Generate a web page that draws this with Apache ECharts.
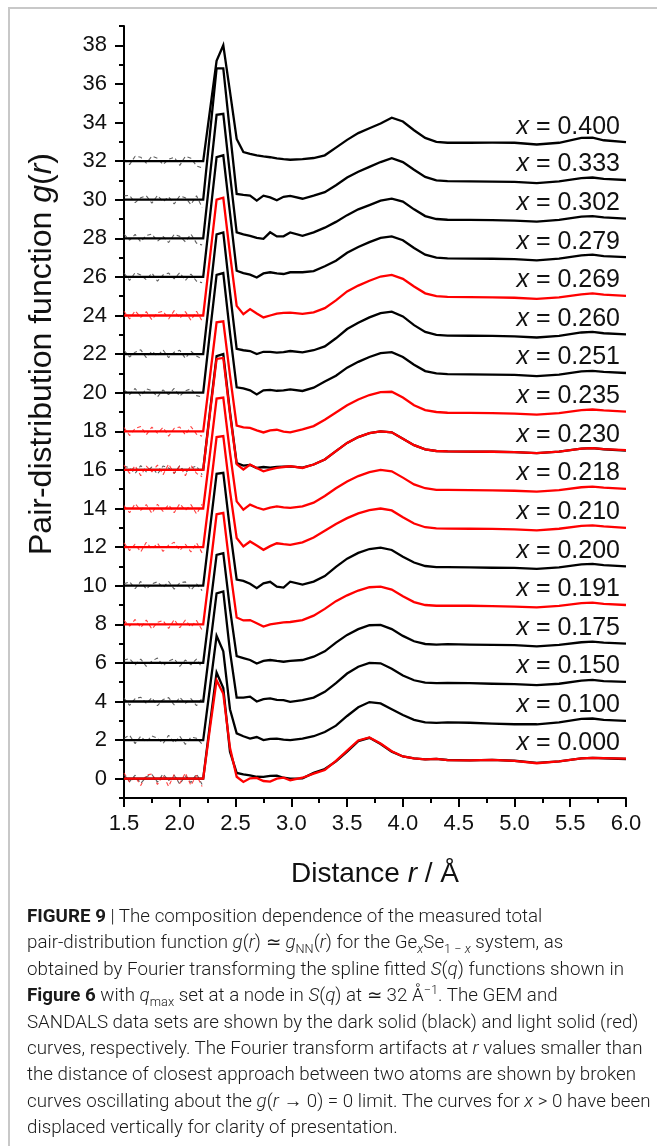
<!DOCTYPE html>
<html><head><meta charset="utf-8">
<script src="https://cdn.jsdelivr.net/npm/echarts@6/dist/echarts.min.js"></script>
<style>
html,body{margin:0;padding:0;background:#fff;}
#wrap{position:relative;width:657px;height:1146px;overflow:hidden;background:#fff;}
#chart{position:absolute;left:0;top:0;width:657px;height:1146px;}
#frameL{position:absolute;left:8px;top:7px;width:2px;height:1139px;background:#c8c8c8;}
#frameT{position:absolute;left:8px;top:7px;width:649px;height:2px;background:#c8c8c8;}
#cap{position:absolute;left:27px;top:903px;font-family:Roboto,'Liberation Sans',sans-serif;font-weight:300;font-size:18.4px;line-height:26.4px;color:#1a1a1a;white-space:nowrap;transform-origin:0 0;transform:scaleX(1.02);}
#cap b{font-weight:700;}
#cap sub,#cap sup{font-size:68%;line-height:0;}
</style></head>
<body>
<div id="wrap">
<div id="chart"></div>
<div id="frameL"></div><div id="frameT"></div>
<div id="cap"><b>FIGURE 9</b> | The composition dependence of the measured total<br>pair-distribution function <i>g</i>(<i>r</i>) ≃ <i>g</i><sub>NN</sub>(<i>r</i>) for the Ge<sub><i>x</i></sub>Se<sub>1 − <i>x</i></sub> system, as<br>obtained by Fourier transforming the spline fitted <i>S</i>(<i>q</i>) functions shown in<br><b>Figure 6</b> with <i>q</i><sub>max</sub> set at a node in <i>S</i>(<i>q</i>) at ≃ 32 Å<sup>−1</sup>. The GEM and<br>SANDALS data sets are shown by the dark solid (black) and light solid (red)<br>curves, respectively. The Fourier transform artifacts at <i>r</i> values smaller than<br>the distance of closest approach between two atoms are shown by broken<br>curves oscillating about the <i>g</i>(<i>r</i> → 0) = 0 limit. The curves for <i>x</i> &gt; 0 have been<br>displaced vertically for clarity of presentation.</div>
</div>
<script>
// ---------------- data ----------------
const R = [1.5, 2.21, 2.27, 2.33, 2.39, 2.45, 2.51, 2.57, 2.63, 2.69, 2.75, 2.81, 2.87, 2.93, 2.99, 3.1, 3.2, 3.3, 3.4, 3.5, 3.6, 3.7, 3.8, 3.9, 4.0, 4.1, 4.2, 4.3, 4.4, 4.6, 4.8, 5.0, 5.2, 5.4, 5.6, 5.7, 5.8, 6.0];
const RA = [1.5, 1.55, 1.6, 1.65, 1.7, 1.75, 1.8, 1.85, 1.9, 1.95, 2.0, 2.05, 2.1, 2.15, 2.2];
const xTicks = [1.5, 2.0, 2.5, 3.0, 3.5, 4.0, 4.5, 5.0, 5.5, 6.0];
const xMinor = [1.75, 2.25, 2.75, 3.25, 3.75, 4.25, 4.75, 5.25, 5.75];
const yTicks = [0, 2, 4, 6, 8, 10, 12, 14, 16, 18, 20, 22, 24, 26, 28, 30, 32, 34, 36, 38];
const yMinor = [-1, 1, 3, 5, 7, 9, 11, 13, 15, 17, 19, 21, 23, 25, 27, 29, 31, 33, 35, 37, 39];

// composition labels and vertical displacements
const compLabels = ['0.000','0.100','0.150','0.175','0.191','0.200','0.210','0.218','0.230','0.235','0.251','0.260','0.269','0.279','0.302','0.333','0.400'];
const offsets = [0, 2, 4, 6, 8, 10, 12, 14, 16, 18, 20, 22, 24, 26, 28, 30, 32];

// GEM (black) g(r), undisplaced
const gem000 = [0, 0, 2.8, 5.5, 4.7, 1.4, 0.3, 0.22, 0.17, 0.1, 0.09, 0.15, 0.16, 0.05, 0.0, 0.02, 0.3, 0.5, 0.9, 1.4, 1.95, 2.12, 1.8, 1.4, 1.15, 1.05, 1.0, 1.03, 0.97, 0.95, 0.98, 0.93, 0.82, 0.9, 1.05, 1.08, 1.06, 1.02];
const gem100 = [0, 0, 2.7, 5.4, 4.6, 1.6, 0.35, 0.2, 0.08, 0.16, 0.0, 0.06, 0.08, 0.03, 0.0, 0.08, 0.2, 0.42, 0.75, 1.25, 1.7, 1.97, 1.9, 1.6, 1.3, 1.05, 0.92, 0.89, 0.92, 0.9, 0.85, 0.82, 0.82, 0.92, 1.1, 1.12, 1.05, 1.0];
const gem150 = [0, 0, 2.8, 5.6, 5.7, 2.6, 0.2, 0.2, 0.25, 0.0, 0.12, 0.16, 0.08, 0.07, -0.02, 0.07, 0.2, 0.5, 0.95, 1.45, 1.8, 2.0, 1.98, 1.7, 1.35, 1.1, 0.98, 0.95, 0.97, 0.95, 0.92, 0.9, 0.85, 0.92, 1.08, 1.12, 1.06, 1.02];
const gem175 = [0, 0, 2.8, 5.6, 5.69, 2.8, 0.35, 0.25, 0.15, -0.03, 0.1, 0.15, 0.1, 0.06, 0.1, 0.15, 0.32, 0.6, 1.05, 1.45, 1.75, 1.95, 1.97, 1.75, 1.4, 1.12, 0.98, 0.95, 0.97, 0.95, 0.93, 0.92, 0.86, 0.93, 1.07, 1.1, 1.05, 1.0];
const gem200 = [0, 0, 2.9, 5.8, 5.85, 2.9, 0.32, 0.25, 0.1, -0.13, 0.12, 0.2, -0.05, -0.1, 0.21, 0.06, 0.21, 0.5, 0.98, 1.4, 1.7, 1.9, 1.97, 1.85, 1.5, 1.2, 1.02, 0.96, 0.96, 0.95, 0.93, 0.92, 0.87, 0.95, 1.1, 1.13, 1.07, 1.0];
const gem230 = [0, 0, 3.0, 5.9, 6.0, 3.0, 0.35, 0.22, 0.26, 0.1, 0.15, 0.12, 0.15, 0.17, 0.18, 0.12, 0.28, 0.54, 0.97, 1.4, 1.7, 1.9, 2.0, 1.95, 1.62, 1.28, 1.06, 0.98, 0.96, 0.95, 0.94, 0.92, 0.87, 0.95, 1.1, 1.13, 1.07, 1.0];
const gem251 = [0, 0, 3.1, 6.1, 6.2, 3.1, 0.28, 0.22, 0.12, -0.09, 0.12, 0.15, 0.1, 0.12, 0.17, 0.09, 0.26, 0.58, 0.88, 1.3, 1.6, 1.85, 2.05, 2.1, 1.85, 1.45, 1.12, 1.0, 0.96, 0.95, 0.94, 0.92, 0.86, 0.94, 1.1, 1.13, 1.08, 1.02];
const gem260 = [0, 0, 3.1, 6.2, 6.3, 3.2, 0.27, 0.2, 0.16, 0.0, 0.12, 0.12, 0.08, 0.1, 0.16, 0.09, 0.2, 0.4, 0.82, 1.3, 1.62, 1.9, 2.12, 2.2, 1.95, 1.5, 1.15, 1.0, 0.96, 0.95, 0.94, 0.92, 0.86, 0.94, 1.12, 1.15, 1.08, 1.02];
const gem279 = [0, 0, 3.1, 6.2, 6.3, 3.3, 0.32, 0.2, 0.12, -0.03, 0.18, 0.24, 0.18, 0.15, 0.24, 0.24, 0.3, 0.55, 0.84, 1.25, 1.55, 1.8, 2.02, 2.1, 1.9, 1.5, 1.15, 1.0, 0.96, 0.95, 0.94, 0.92, 0.86, 0.95, 1.12, 1.15, 1.08, 1.02];
const gem302 = [0, 0, 3.2, 6.4, 6.45, 3.3, 0.31, 0.2, 0.13, 0.02, -0.03, 0.31, 0.1, 0.1, 0.3, 0.13, 0.31, 0.55, 0.85, 1.2, 1.5, 1.72, 1.95, 2.05, 1.9, 1.5, 1.15, 1.0, 0.96, 0.95, 0.94, 0.92, 0.86, 0.95, 1.12, 1.15, 1.08, 1.02];
const gem333 = [0, 0, 3.4, 6.8, 6.8, 3.5, 0.3, 0.25, 0.21, -0.05, 0.21, 0.12, -0.03, 0.15, 0.2, 0.05, 0.21, 0.39, 0.75, 1.15, 1.45, 1.7, 1.95, 2.15, 1.95, 1.55, 1.18, 1.0, 0.96, 0.95, 0.94, 0.92, 0.86, 0.95, 1.12, 1.15, 1.08, 1.02];
const gem400 = [0, 0, 2.6, 5.2, 6.0, 3.6, 1.15, 0.47, 0.38, 0.3, 0.24, 0.2, 0.14, 0.1, 0.07, 0.1, 0.16, 0.3, 0.7, 1.1, 1.45, 1.7, 1.95, 2.25, 2.05, 1.6, 1.2, 1.0, 0.95, 0.95, 0.96, 0.95, 0.86, 0.95, 1.2, 1.22, 1.08, 0.98];

// SANDALS (red) g(r), undisplaced
const snd000 = [0, 0, 2.6, 5.1, 4.4, 1.6, 0.1, -0.17, 0.02, 0.04, -0.12, -0.15, 0.0, 0.05, -0.08, 0.05, 0.26, 0.45, 0.92, 1.45, 1.98, 2.14, 1.82, 1.42, 1.15, 1.05, 1.0, 1.03, 0.96, 0.95, 0.98, 0.92, 0.8, 0.9, 1.05, 1.08, 1.07, 1.04];
const snd191 = [0, 0, 2.8, 5.7, 5.77, 2.9, 0.35, 0.2, 0.22, 0.05, -0.12, 0.0, 0.05, 0.1, 0.12, 0.22, 0.45, 0.8, 1.2, 1.5, 1.75, 1.92, 1.95, 1.8, 1.45, 1.15, 1.0, 0.96, 0.97, 0.96, 0.94, 0.92, 0.88, 0.95, 1.1, 1.12, 1.06, 1.0];
const snd210 = [0, 0, 2.8, 5.7, 5.75, 2.9, 0.47, 0.03, 0.29, 0.08, -0.14, 0.05, 0.2, 0.15, 0.12, 0.25, 0.5, 0.85, 1.2, 1.5, 1.75, 1.92, 2.0, 1.9, 1.55, 1.22, 1.03, 0.97, 0.96, 0.95, 0.94, 0.92, 0.87, 0.95, 1.1, 1.13, 1.07, 1.0];
const snd218 = [0, 0, 2.8, 5.7, 5.75, 2.9, 0.37, -0.06, 0.2, 0.05, -0.06, 0.05, 0.11, 0.06, 0.03, 0.11, 0.3, 0.65, 1.05, 1.4, 1.68, 1.88, 2.0, 1.93, 1.6, 1.25, 1.05, 0.97, 0.96, 0.95, 0.94, 0.92, 0.87, 0.95, 1.1, 1.13, 1.08, 1.02];
const snd230 = [0, 0, 2.9, 5.75, 5.8, 2.9, 0.3, 0.02, 0.28, 0.1, -0.07, 0.03, 0.1, 0.15, 0.19, 0.1, 0.28, 0.54, 0.97, 1.4, 1.7, 1.9, 2.0, 1.95, 1.62, 1.28, 1.06, 0.98, 0.96, 0.95, 0.94, 0.92, 0.87, 0.95, 1.1, 1.13, 1.08, 1.02];
const snd235 = [0, 0, 2.8, 5.65, 5.7, 2.9, 0.3, 0.2, 0.18, 0.05, -0.06, 0.05, 0.08, -0.02, -0.06, 0.1, 0.27, 0.6, 0.97, 1.35, 1.65, 1.88, 2.03, 2.05, 1.75, 1.35, 1.1, 1.0, 0.96, 0.95, 0.94, 0.92, 0.86, 0.94, 1.1, 1.13, 1.08, 1.02];
const snd269 = [0, 0, 3.0, 6.0, 6.1, 3.2, 0.5, 0.07, 0.33, 0.1, -0.1, 0.0, 0.1, 0.14, 0.15, 0.08, 0.16, 0.38, 0.78, 1.25, 1.55, 1.8, 2.02, 2.1, 1.9, 1.5, 1.15, 1.0, 0.96, 0.95, 0.94, 0.92, 0.86, 0.94, 1.1, 1.15, 1.08, 1.02];

// Fourier-transform artifacts below r = 2.2 (broken curves)
const artG000 = [0.2,-0.15,0.18,-0.25,0.1,0.22,-0.18,0.25,-0.1,0.18,-0.28,0.15,-0.2,0.25,-0.3];
const artG100 = [0.1,0.25,-0.18,0.2,-0.1,0.22,0.1,-0.18,0.25,-0.15,0.2,-0.22,0.15,0.1,-0.2];
const artG150 = [0.18,-0.2,0.15,0.22,-0.1,0.2,-0.22,0.1,0.2,-0.18,0.22,-0.1,0.15,-0.22,0.18];
const artG175 = [0.15,0.22,-0.1,0.2,-0.18,0.1,0.25,-0.15,0.1,0.22,-0.18,0.15,-0.1,0.2,-0.25];
const artG200 = [0.1,0.2,-0.15,0.22,-0.18,0.1,0.2,-0.1,0.22,-0.18,0.15,0.2,-0.22,0.1,-0.25];
const artG230 = [0.2,0.1,-0.18,0.22,-0.1,0.15,-0.22,0.2,0.1,-0.18,0.22,-0.15,0.1,0.2,-0.25];
const artG251 = [0.15,-0.1,0.22,-0.18,0.2,0.1,-0.22,0.15,-0.1,0.22,-0.18,0.1,0.2,-0.15,-0.22];
const artG260 = [0.2,-0.15,0.1,0.22,-0.18,0.15,-0.1,0.22,-0.18,0.1,0.2,-0.22,0.15,-0.1,-0.25];
const artG279 = [0.2,-0.18,0.22,0.1,-0.15,0.2,-0.22,0.1,0.2,-0.1,0.22,-0.18,0.15,-0.22,-0.3];
const artG302 = [0.22,-0.1,0.2,-0.18,0.15,0.22,-0.15,0.1,-0.22,0.2,0.1,-0.18,0.22,-0.25,-0.35];
const artG333 = [0.2,0.22,-0.15,0.1,0.2,-0.18,0.22,-0.1,0.15,-0.22,0.2,0.1,-0.25,0.2,-0.4];
const artG400 = [0.1,-0.18,0.25,0.2,-0.1,0.25,0.15,-0.18,0.1,0.2,-0.22,0.25,0.15,-0.25,-0.35];
const artS000 = [0.3,-0.18,0.1,-0.35,0.18,0.25,-0.3,0.18,-0.4,0.22,-0.25,0.3,-0.35,0.18,-0.4];
const artS191 = [0.2,-0.1,0.25,-0.18,0.22,-0.25,0.1,0.2,-0.22,0.25,-0.18,0.22,-0.15,0.2,-0.3];
const artS210 = [0.22,-0.18,0.15,-0.25,0.25,-0.1,0.2,-0.22,0.1,0.25,-0.18,0.15,-0.25,0.22,-0.3];
const artS218 = [0.15,-0.22,0.25,-0.1,0.2,-0.25,0.22,-0.15,0.2,-0.22,0.25,-0.1,0.2,-0.28,0.22];
const artS230 = [0.25,-0.18,0.22,-0.3,0.2,-0.1,0.25,-0.25,0.3,-0.18,0.2,-0.3,0.25,-0.18,-0.35];
const artS235 = [0.2,-0.22,0.15,0.25,-0.18,0.22,-0.1,0.2,-0.25,0.15,0.22,-0.18,0.25,-0.15,-0.25];
const artS269 = [0.22,-0.18,0.25,-0.1,0.2,-0.22,0.15,0.22,-0.18,0.25,-0.15,0.2,-0.25,0.22,-0.28];

// ---------------- build ----------------
const gemSets = [
  ['0.000', gem000, artG000], ['0.100', gem100, artG100], ['0.150', gem150, artG150],
  ['0.175', gem175, artG175], ['0.200', gem200, artG200], ['0.230', gem230, artG230],
  ['0.251', gem251, artG251], ['0.260', gem260, artG260], ['0.279', gem279, artG279],
  ['0.302', gem302, artG302], ['0.333', gem333, artG333], ['0.400', gem400, artG400]
];
const sndSets = [
  ['0.000', snd000, artS000], ['0.191', snd191, artS191], ['0.210', snd210, artS210],
  ['0.218', snd218, artS218], ['0.230', snd230, artS230], ['0.235', snd235, artS235],
  ['0.269', snd269, artS269]
];
const offsetOf = lab => offsets[compLabels.indexOf(lab)];
const labelled = {};
const FONT = "'Liberation Sans', Arial, sans-serif";

function artSeries(lab, art, color) {
  const off = offsetOf(lab);
  return {
    type: 'line', silent: true, symbol: 'none', animation: false, z: 1,
    data: RA.map((r, i) => [r, art[i] + off]),
    lineStyle: { color: color, width: 1.1, type: [4, 3], opacity: 0.85 }
  };
}
function curveSeries(lab, vals, color, z) {
  const off = offsetOf(lab);
  const s = {
    type: 'line', silent: true, symbol: 'none', animation: false, z: z,
    data: R.map((r, i) => [r, vals[i] + off]),
    lineStyle: { color: color, width: 2.3, join: 'miter', cap: 'butt' }
  };
  if (!labelled[lab]) {
    labelled[lab] = true;
    s.endLabel = {
      show: true, formatter: '{i|x} = ' + lab, align: 'right', verticalAlign: 'bottom',
      distance: 0, offset: [-6, -3], fontSize: 25, fontFamily: FONT, color: '#111',
      rich: { i: { fontStyle: 'italic', fontSize: 25, fontFamily: FONT, color: '#111' } }
    };
  }
  return s;
}

const series = [];
gemSets.forEach(d => series.push(artSeries(d[0], d[2], '#444')));
sndSets.forEach(d => series.push(artSeries(d[0], d[2], '#ff2020')));
gemSets.forEach(d => series.push(curveSeries(d[0], d[1], '#000000', 3)));
sndSets.forEach(d => series.push(curveSeries(d[0], d[1], '#ff0000', 4)));

const chart = echarts.init(document.getElementById('chart'), null, { renderer: 'canvas' });
chart.setOption({
  animation: false,
  backgroundColor: 'transparent',
  grid: { left: 124, right: 31, top: 26, bottom: 348, containLabel: false },
  xAxis: [{
    type: 'value', min: 1.5, max: 6.0,
    axisLine: { show: true, onZero: false, lineStyle: { color: '#000', width: 2 } },
    axisTick: { show: true, customValues: xTicks, length: 9, lineStyle: { color: '#000', width: 2 } },
    axisLabel: { customValues: xTicks, formatter: v => v.toFixed(1), fontSize: 22, fontFamily: FONT, color: '#111', margin: 15 },
    splitLine: { show: false },
    name: '{n|Distance }{i|r}{n| / Å}', nameLocation: 'middle', nameGap: 62,
    nameTextStyle: { rich: { n: { fontSize: 28, fontFamily: FONT, color: '#111' }, i: { fontSize: 28, fontStyle: 'italic', fontFamily: FONT, color: '#111' } } }
  }, {
    type: 'value', min: 1.5, max: 6.0, position: 'bottom',
    axisLine: { show: false, onZero: false },
    axisTick: { show: true, customValues: xMinor, length: 5, lineStyle: { color: '#000', width: 2 } },
    axisLabel: { show: false }, splitLine: { show: false }
  }],
  yAxis: [{
    type: 'value', min: -1, max: 39,
    axisLine: { show: true, onZero: false, lineStyle: { color: '#000', width: 2 } },
    axisTick: { show: true, customValues: yTicks, length: 9, lineStyle: { color: '#000', width: 2 } },
    axisLabel: { customValues: yTicks, fontSize: 22, fontFamily: FONT, color: '#111', margin: 17 },
    splitLine: { show: false },
    name: '{n|Pair-distribution function }{i|g}{n|(}{i|r}{n|)}', nameLocation: 'middle', nameRotate: 90, nameGap: 66,
    nameTextStyle: { padding: [0, 0, 0, 116], rich: { n: { fontSize: 32, fontFamily: FONT, color: '#111' }, i: { fontSize: 32, fontStyle: 'italic', fontFamily: FONT, color: '#111' } } }
  }, {
    type: 'value', min: -1, max: 39, position: 'left',
    axisLine: { show: false, onZero: false },
    axisTick: { show: true, customValues: yMinor, length: 5, lineStyle: { color: '#000', width: 2 } },
    axisLabel: { show: false }, splitLine: { show: false }
  }],
  series: series
});
</script>
</body></html>
